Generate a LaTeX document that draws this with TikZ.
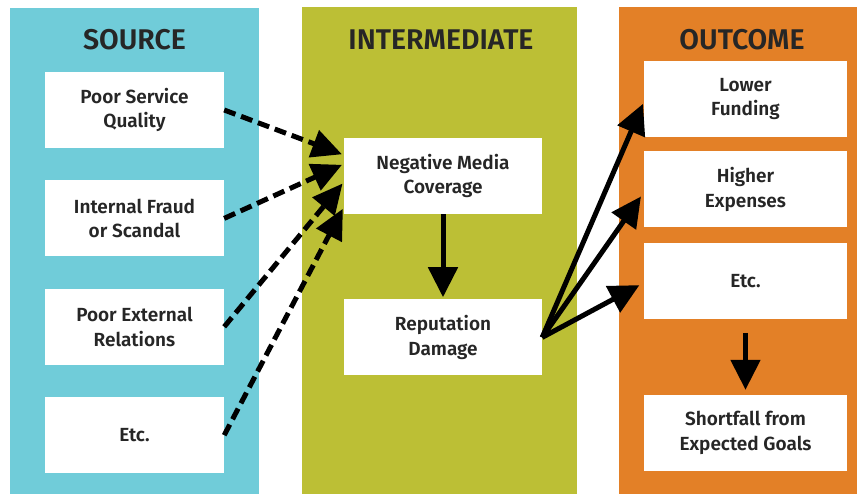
\documentclass[tikz,border=0pt]{standalone}
\usepackage{fontspec}
\setmainfont{Fira Sans}[BoldFont={Fira Sans SemiBold}]
\usetikzlibrary{positioning}
\usetikzlibrary{arrows.meta}
\definecolor{srcteal}{HTML}{70CCD9}
\definecolor{midolive}{HTML}{BCBF35}
\definecolor{outorange}{HTML}{E38027}
\definecolor{inkgray}{HTML}{262626}

\begin{document}
\begin{tikzpicture}[x=1pt, y=-1pt,
                whitebox/.style={rectangle, fill=white, minimum height=76pt, inner sep=0pt, align=center, text=inkgray, font=\fontsize{19}{24.5}\selectfont\bfseries},
                srcbox/.style={whitebox, minimum width=179pt},
                midbox/.style={whitebox, minimum width=198pt},
                outbox/.style={whitebox, minimum width=203pt},
                headtext/.style={text=inkgray, font=\fontsize{28.5}{32}\selectfont\bfseries},
                dasharrow/.style={-{Triangle[length=30pt, width=28pt]}, line width=5pt, dash pattern=on 12pt off 6pt},
                fullarrow/.style={-{Triangle[length=30pt, width=29pt]}, line width=5pt},
                ]
                \useasboundingbox (0,0) rectangle (857,494);

                % columns
                \fill[srcteal] (10,8) rectangle (259,494);
                \fill[midolive] (302,7) rectangle (577,494);
                \fill[outorange] (619,7) rectangle (857,494);

                \node[headtext] (srchead) at (134.5,40) {SOURCE};
                \node[headtext] (midhead) at (441,40) {INTERMEDIATE};
                \node[headtext] (outhead) at (742,40) {OUTCOME};

                % source
                \node[srcbox] (poor) at (134.5,110) {Poor Service\\Quality};
                \node[srcbox, below=32pt of poor] (fraud) {Internal Fraud\\or Scandal};
                \node[srcbox, below=32pt of fraud] (relations) {Poor External\\Relations};
                \node[srcbox, below=32pt of relations] (srcetc) {Etc.};

                % intermediate
                \node[midbox] (media) at (443,176) {Negative Media\\Coverage};
                \node[midbox, below=85pt of media] (damage) {Reputation\\Damage};

                % outcome
                \node[outbox] (funding) at (745.5,99) {Lower\\Funding};
                \node[outbox, below=14pt of funding] (expenses) {Higher\\Expenses};
                \node[outbox, below=15pt of expenses] (outetc) {Etc.};
                \node[outbox] (shortfall) at (745.5,433) {Shortfall from\\Expected Goals};

                \draw[dasharrow, shorten >=2pt] (poor.east) -- ([yshift=21pt]media.west);
                \draw[dasharrow, shorten >=2pt] (fraud.east) -- ([yshift=12pt]media.west);
                \draw[dasharrow, shorten >=2pt] (relations.east) -- ([yshift=-6pt]media.west);
                \draw[dasharrow, shorten >=2pt] (srcetc.east) -- ([yshift=-31pt]media.west);

                \draw[fullarrow, shorten >=2pt] (media.south) -- (damage.north);

                \draw[fullarrow, shorten >=2pt] (damage.east) -- ([yshift=-3pt]funding.west);
                \draw[fullarrow, shorten >=5pt] (damage.east) -- ([yshift=-3pt]expenses.west);
                \draw[fullarrow, shorten >=5pt] (damage.east) -- ([yshift=-2pt]outetc.west);

                \draw[fullarrow, shorten <=14pt, shorten >=5pt] (outetc.south) -- (shortfall.north);
            \end{tikzpicture}
\end{document}
